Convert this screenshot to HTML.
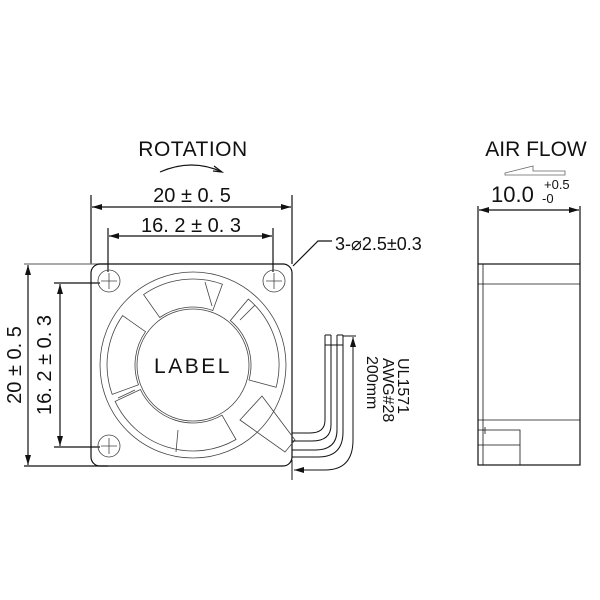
<!DOCTYPE html>
<html><head><style>body{margin:0;background:#fff}svg{display:block}text{font-family:"Liberation Sans",sans-serif;fill:#111}</style></head><body>
<svg width="600" height="600" viewBox="0 0 600 600">
<defs><marker id="a" markerWidth="10" markerHeight="6" refX="10" refY="3" orient="auto-start-reverse" markerUnits="userSpaceOnUse"><path d="M0,0L10,3L0,6z" fill="#111"/></marker></defs>
<g stroke="#111" fill="none" stroke-width="1.2">
<line x1="91" y1="195" x2="91" y2="264"/><line x1="292" y1="195" x2="292" y2="264"/>
<line x1="92" y1="207" x2="291" y2="207" marker-start="url(#a)" marker-end="url(#a)"/>
<line x1="108" y1="228" x2="108" y2="272"/><line x1="273" y1="228" x2="273" y2="272"/>
<line x1="109" y1="236" x2="272" y2="236" marker-start="url(#a)" marker-end="url(#a)"/>
<line x1="24" y1="264" x2="108" y2="264" stroke="#777"/><line x1="24" y1="466" x2="108" y2="466"/>
<line x1="28" y1="265" x2="28" y2="465" marker-start="url(#a)" marker-end="url(#a)"/>
<line x1="54" y1="283" x2="100" y2="283"/><line x1="54" y1="447" x2="100" y2="447"/>
<line x1="60" y1="284" x2="60" y2="446" marker-start="url(#a)" marker-end="url(#a)"/>
<path d="M160,172 Q192,158 222,172"/><path d="M214,166 L222,172 L213,171" />
<rect x="91" y="264" width="201" height="202" rx="9"/>
<g stroke-width="0.8" stroke="#444">
<circle cx="109" cy="281" r="11"/><path d="M101,281h16M109,273v16"/>
<circle cx="274" cy="281" r="11"/><path d="M266,281h16M274,273v16"/>
<circle cx="109" cy="446" r="11"/><path d="M101,446h16M109,438v16"/>
<circle cx="193" cy="365" r="93"/>
<circle cx="193" cy="365" r="56"/>
<path d="M143.6,294.6 A86,86 0 0 1 222.4,284.2 L212.8,310.5 A58,58 0 0 0 159.7,317.5 Z"/>
<path d="M248.3,299.1 A86,86 0 0 1 276.1,387.3 L249,380 A58,58 0 0 0 230.3,320.6 Z"/>
<path d="M112.2,394.4 A86,86 0 0 1 122.6,315.6 L145.5,331.7 A58,58 0 0 0 138.5,384.8 Z"/>
<path d="M236,439.5 A86,86 0 0 1 115.1,401.4 L140.4,389.5 A58,58 0 0 0 222,415.2 Z"/>
<path d="M240,420 L262,396 L295,440 L285,452 Z"/>
<path d="M205,282 L212,306 M255,305 L240,320 M178,430 L176,452 M135,390 L118,398"/>
</g>
<g stroke-width="1">
<path d="M325,335 V420 Q325,433 310,433 H292"/>
<path d="M331,335 V425 Q331,441 312,441 H292"/>
<path d="M337,335 V430 Q337,450 315,450 H292"/>
<path d="M343,335 V432 Q343,457 318,457 H292"/>
<path d="M325,335h6M337,335h6M325,345h18"/>
<path d="M343,336 H356"/>
<path d="M353,440 Q353,470 325,470 H294" marker-end="url(#a)"/>
<line x1="353" y1="441" x2="353" y2="337" marker-end="url(#a)"/>
<line x1="292" y1="460" x2="292" y2="480"/>
</g>
<path d="M332,241 H318 L293,266"/>
<line x1="478" y1="206" x2="478" y2="264"/><line x1="580" y1="206" x2="580" y2="264"/>
<line x1="479" y1="210" x2="579" y2="210" marker-start="url(#a)" marker-end="url(#a)"/>
<rect x="478" y="264" width="102" height="201"/>
<line x1="483" y1="264" x2="483" y2="465" stroke-width="0.8"/>
<line x1="478" y1="284" x2="580" y2="284" stroke-width="0.8"/>
<line x1="478" y1="420" x2="580" y2="420" stroke-width="0.8"/>
<path d="M478,430 H520 V465 M478,445 H520 M485,427 V434" stroke-width="0.8"/>
<path d="M505,173 L533,166 V171 H565 V175 H505 Z" stroke="#666" stroke-width="0.8"/>
</g>
<text x="193" y="156" font-size="21" text-anchor="middle" letter-spacing="0.5">ROTATION</text>
<text x="192" y="202" font-size="20" text-anchor="middle">20 ± 0. 5</text>
<text x="191" y="232" font-size="20" text-anchor="middle">16. 2 ± 0. 3</text>
<text x="335" y="250" font-size="18">3-⌀2.5±0.3</text>
<text x="193" y="373" font-size="21" text-anchor="middle" letter-spacing="2.5">LABEL</text>
<text font-size="20" text-anchor="middle" transform="translate(21,365) rotate(-90)">20 ± 0. 5</text>
<text font-size="20" text-anchor="middle" transform="translate(51,365) rotate(-90)">16. 2 ± 0. 3</text>
<text font-size="16" transform="translate(398,358) rotate(90)">UL1571</text>
<text font-size="16" transform="translate(383,358) rotate(90)">AWG#28</text>
<text font-size="16" transform="translate(367,356) rotate(90)">200mm</text>
<text x="536" y="156" font-size="21" text-anchor="middle">AIR FLOW</text>
<text x="491" y="202" font-size="22">10.0</text>
<text x="544" y="189" font-size="13">+0.5</text>
<text x="542" y="203" font-size="13">-0</text>
</svg>
</body></html>
